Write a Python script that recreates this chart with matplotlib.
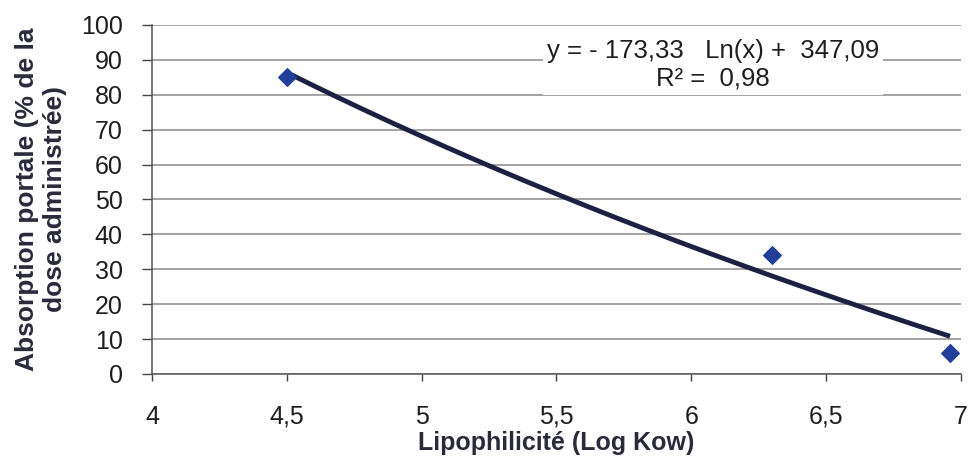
import numpy as np
import matplotlib
matplotlib.use("Agg")
import matplotlib.pyplot as plt

# data
log_kow = [4.5, 6.3, 6.96]
absorption = [85, 34, 6]
coef_a = -173.33
coef_b = 347.09
r2_label = "0,98"
x_ticks = [4, 4.5, 5, 5.5, 6, 6.5, 7]
x_tick_labels = ["4", "4,5", "5", "5,5", "6", "6,5", "7"]
y_ticks = list(range(0, 101, 10))

plt.rcParams["font.family"] = ["Liberation Sans", "DejaVu Sans"]

fig = plt.figure(figsize=(9.71, 4.71), dpi=100)
ax = fig.add_axes([0.1565, 0.206, 0.833, 0.741])

ax.set_xlim(4, 7)
ax.set_ylim(0, 100)
ax.set_yticks(y_ticks)
ax.set_xticks(x_ticks)
ax.set_xticklabels(x_tick_labels)
ax.tick_params(axis="both", labelsize=18, width=1, color="#444444",
               direction="out", labelcolor="#1e1e1e")
ax.tick_params(axis="y", length=7, pad=14)
ax.tick_params(axis="x", length=5, pad=17)
ax.yaxis.grid(True, color="#8a8a8a", linewidth=1.1)
ax.set_axisbelow(True)
for side in ("top", "right"):
    ax.spines[side].set_visible(False)
for side in ("left", "bottom"):
    ax.spines[side].set_color("#555555")
    ax.spines[side].set_linewidth(1.1)

# logarithmic trend line from the fitted coefficients
x_fit = np.linspace(min(log_kow), max(log_kow), 200)
y_fit = coef_a * np.log(x_fit) + coef_b
ax.plot(x_fit, y_fit, color="#1c2142", linewidth=3.5, solid_capstyle="butt", zorder=3)

ax.scatter(log_kow, absorption, marker="D", s=80, color="#1f3f99", zorder=4)

eq = f"y = - {abs(coef_a):.2f}   Ln(x) +  {coef_b:.2f}".replace(".", ",")
ax.text(6.08, 88.5, eq + "\nR² =  " + r2_label, ha="center", va="center",
        multialignment="center", fontsize=18.5, color="#1e1e1e", linespacing=1.2,
        bbox=dict(facecolor="white", edgecolor="none", pad=3), zorder=5)

ax.set_xlabel("Lipophilicité (Log Kow)", fontsize=18, fontweight="bold",
              color="#2a2a3a", labelpad=2)
ax.set_ylabel("Absorption portale (% de la\ndose administrée)", fontsize=19,
              fontweight="bold", color="#2a2a3a", labelpad=10, linespacing=1.2)

fig.savefig("out.png", dpi=100)
